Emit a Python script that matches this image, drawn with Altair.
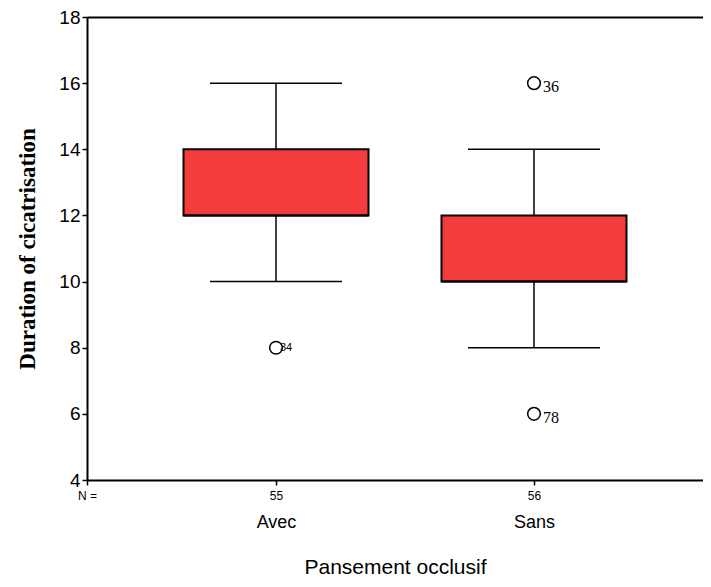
import altair as alt
import pandas as pd

# ---- data ----
groups = ["Avec", "Sans"]
n_counts = [55, 56]
q1 = [12, 10]
median = [12, 10]
q3 = [14, 12]
whisk_lo = [10, 8]
whisk_hi = [16, 14]

out_group = ["Avec", "Sans", "Sans"]
out_value = [8, 16, 6]
out_id = ["34", "36", "78"]

# ---- styling constants ----
PX_PER_UNIT = 258.0
BOX_HALF = 92.5 / PX_PER_UNIT
CAP_HALF = 66.0 / PX_PER_UNIT
W, H = 616, 463
XMIN = 1 - 189.0 / PX_PER_UNIT
XMAX = XMIN + W / PX_PER_UNIT

box = pd.DataFrame({
    "group": groups, "pos": [i + 1 for i in range(len(groups))], "n": n_counts,
    "q1": q1, "median": median, "q3": q3, "lo": whisk_lo, "hi": whisk_hi,
})
box["bx0"] = box["pos"] - BOX_HALF
box["bx1"] = box["pos"] + BOX_HALF
box["cx0"] = box["pos"] - CAP_HALF
box["cx1"] = box["pos"] + CAP_HALF

outl = pd.DataFrame({"group": out_group, "value": out_value, "id": out_id})
outl["pos"] = outl["group"].map({g: i + 1 for i, g in enumerate(groups)})

xscale = alt.Scale(domain=[XMIN, XMAX], nice=False, zero=False)
yscale = alt.Scale(domain=[4, 18], nice=False, zero=False)

n_expr = "datum.value < 0.5 ? 'N =' : " + " : ".join(
    f"datum.value == {i+1} ? '{n}'" for i, n in enumerate(n_counts)) + " : ''"

xaxis = alt.Axis(
    values=[XMIN] + [i + 1 for i in range(len(groups))],
    labelExpr=n_expr, title=None, grid=False,
    domainColor="black", domainWidth=2, tickColor="black", tickWidth=1.5,
    tickSize=5, labelPadding=5, labelFont="Liberation Sans", labelFontSize=12,
    labelColor="black", labelFlush=False,
)
yaxis = alt.Axis(
    values=list(range(4, 19, 2)), title="Duration of cicatrisation", grid=False,
    domainColor="black", domainWidth=2, tickColor="black", tickWidth=1.5,
    tickSize=5, labelPadding=2, labelFont="Liberation Sans", labelFontSize=19,
    labelColor="black", titleFont="Liberation Serif", titleFontSize=23,
    titleFontWeight="bold", titleColor="black", titlePadding=19,
)


def X(field):
    return alt.X(field, type="quantitative", scale=xscale, axis=xaxis)


def Y(field):
    return alt.Y(field, type="quantitative", scale=yscale, axis=yaxis)


base = alt.Chart(box)

whisk_up = base.mark_rule(color="black", strokeWidth=1.5).encode(
    x=X("pos"), y=Y("q3"), y2="hi")
whisk_dn = base.mark_rule(color="black", strokeWidth=1.5).encode(
    x=X("pos"), y=Y("lo"), y2="q1")
cap_hi = base.mark_rule(color="black", strokeWidth=1.5).encode(
    x=X("cx0"), x2="cx1", y=Y("hi"))
cap_lo = base.mark_rule(color="black", strokeWidth=1.5).encode(
    x=X("cx0"), x2="cx1", y=Y("lo"))
boxes = base.mark_rect(fill="#F43C3C", stroke="black", strokeWidth=2).encode(
    x=X("bx0"), x2="bx1", y=Y("q1"), y2="q3")
med = base.mark_rule(color="black", strokeWidth=2).encode(
    x=X("bx0"), x2="bx1", y=Y("median"))

ob = alt.Chart(outl)
pts = ob.mark_point(shape="circle", filled=False, color="black", size=160,
                    strokeWidth=1.5, opacity=1).encode(x=X("pos"), y=Y("value"))
lab_small = ob.transform_filter("datum.id == '34'").mark_text(
    align="left", baseline="middle", dx=4, font="Liberation Sans", fontSize=11,
    color="black").encode(x=X("pos"), y=Y("value"), text="id:N")
lab_big = ob.transform_filter("datum.id != '34'").mark_text(
    align="left", baseline="middle", dx=9, dy=4, font="Liberation Serif",
    fontSize=16, color="black").encode(x=X("pos"), y=Y("value"), text="id:N")

main = alt.layer(whisk_up, whisk_dn, cap_hi, cap_lo, boxes, med, pts,
                 lab_small, lab_big)

cat_expr = " : ".join(f"datum.value == {i+1} ? '{g}'" for i, g in enumerate(groups)) + " : ''"
cat_layer = base.mark_point(opacity=0).encode(
    x=alt.X("pos:Q", scale=xscale, axis=alt.Axis(
        orient="bottom", values=[i + 1 for i in range(len(groups))],
        labelExpr=cat_expr, domain=False, ticks=False, grid=False,
        offset=28, labelPadding=5, labelFont="Liberation Sans",
        labelFontSize=18, labelColor="black",
        title="Pansement occlusif", titleFont="Liberation Sans",
        titleFontSize=21, titleFontWeight="normal", titleColor="black",
        titlePadding=25)),
)
top_layer = base.mark_point(opacity=0).encode(
    x=alt.X("pos:Q", scale=xscale, axis=alt.Axis(
        orient="top", domain=True, domainColor="black", domainWidth=2,
        ticks=False, labels=False, grid=False, title=None)),
)

chart = alt.layer(main, cat_layer, top_layer).resolve_scale(
    x="independent").properties(
    width=W, height=H, background="white",
    autosize=alt.AutoSizeParams(type="none"),
    padding={"left": 79, "top": 9, "right": 0, "bottom": 98},
).configure_view(stroke=None)

chart.save("out.html", embed_options={"renderer": "svg", "actions": False})
